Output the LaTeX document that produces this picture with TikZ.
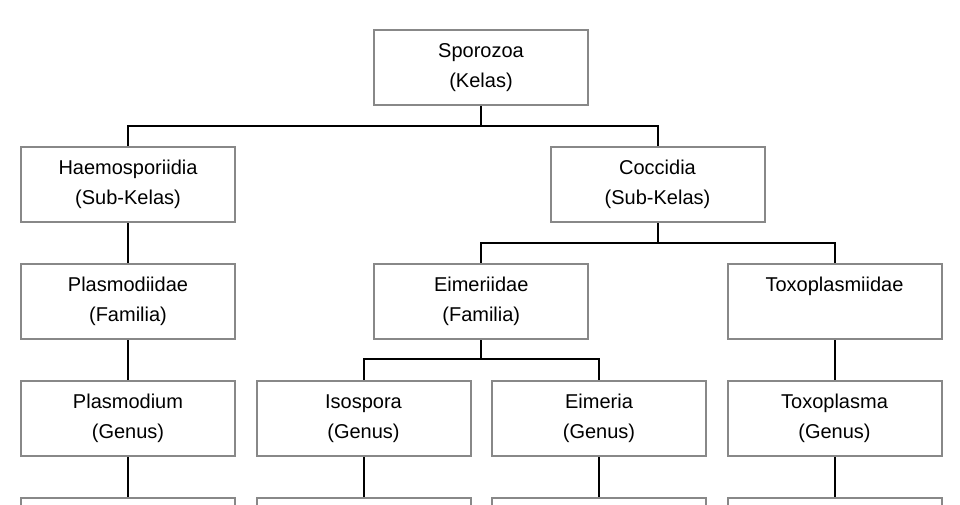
\documentclass[tikz,border=0pt]{standalone}
\usepackage{fontspec}
\setmainfont{Liberation Sans}
\usetikzlibrary{
  calc,
  positioning
}
\definecolor{ink}{HTML}{000000}
\definecolor{frame}{HTML}{888888}

\begin{document}
\begin{tikzpicture}[
  x=1pt, y=1pt,
  node distance=40pt and 19.5pt,
  taxon/.style={
    draw=frame,
    line width=2pt,
    fill=white,
    minimum width=214pt,
    minimum height=75pt,
    inner sep=0pt,
    align=center,
    text=ink,
    font=\fontsize{20}{30}\selectfont
  },
  link/.style={
    draw=ink,
    line width=2pt
  }
]
\clip (0,0) rectangle (960,-504);

% Class and sub-classes
\node[taxon] (sporozoa) at (481,-67.5) {Sporozoa\\(Kelas)};
\node[taxon] (haemo) at (128,-184.5) {Haemosporiidia\\(Sub-Kelas)};
\node[taxon] (coccidia) at (657.5,-184.5) {Coccidia\\(Sub-Kelas)};

% Left branch
\node[taxon, below=of haemo] (plasmodiidae) {Plasmodiidae\\(Familia)};
\node[taxon, below=of plasmodiidae] (plasmodium) {Plasmodium\\(Genus)};

% Genus row
\node[taxon, right=of plasmodium] (isospora) {Isospora\\(Genus)};
\node[taxon, right=of isospora] (eimeria) {Eimeria\\(Genus)};
\node[taxon, right=of eimeria] (toxoplasma) {Toxoplasma\\(Genus)};

% Families of Coccidia
\node[taxon, above=of $(isospora.north)!0.5!(eimeria.north)$] (eimeriidae) {Eimeriidae\\(Familia)};
\node[taxon, above=of toxoplasma] (toxoplasmiidae) {Toxoplasmiidae\\\vphantom{(}};

% Next row, cut off by the page
\node[taxon, below=of plasmodium] (plasmodiumsp) {};
\node[taxon, below=of isospora] (isosporasp) {};
\node[taxon, below=of eimeria] (eimeriasp) {};
\node[taxon, below=of toxoplasma] (toxoplasmasp) {};

% Tree connectors
\draw[link] (sporozoa.south) -- ++(0,-20) -| (haemo.north);
\draw[link] (sporozoa.south) -- ++(0,-20) -| (coccidia.north);
\draw[link] (coccidia.south) -- ++(0,-20) -| (eimeriidae.north);
\draw[link] (coccidia.south) -- ++(0,-20) -| (toxoplasmiidae.north);
\draw[link] (eimeriidae.south) -- ++(0,-19) -| (isospora.north);
\draw[link] (eimeriidae.south) -- ++(0,-19) -| (eimeria.north);
\draw[link] (haemo.south) -- (plasmodiidae.north);
\draw[link] (plasmodiidae.south) -- (plasmodium.north);
\draw[link] (toxoplasmiidae.south) -- (toxoplasma.north);
\draw[link] (plasmodium.south) -- (plasmodiumsp.north);
\draw[link] (isospora.south) -- (isosporasp.north);
\draw[link] (eimeria.south) -- (eimeriasp.north);
\draw[link] (toxoplasma.south) -- (toxoplasmasp.north);

\end{tikzpicture}
\end{document}
